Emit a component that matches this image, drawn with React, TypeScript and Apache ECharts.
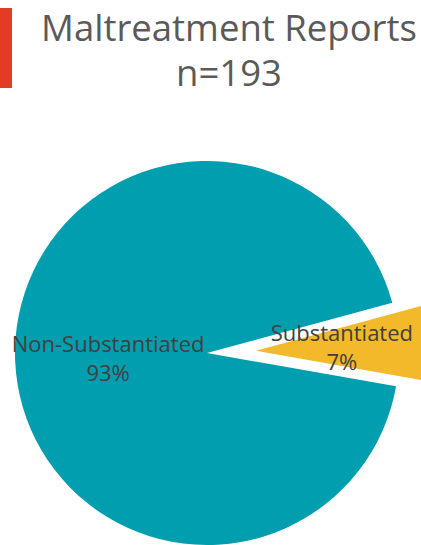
import React, { useEffect, useRef } from "react";
import * as echarts from "echarts";

const titleLines = ["Maltreatment Reports", "n=193"];
const categories = ["Non-Substantiated", "Substantiated"];
const percents = [93, 7];
const colors = ["#019EB0", "#F2B92A"];
const labelPaddings = [
  [0, 0, 4, 0],
  [12, 26, 0, 0],
];

export default function App() {
  const ref = useRef<HTMLDivElement>(null);
  useEffect(() => {
    document.body.style.margin = "0";
    const chart = echarts.init(ref.current!, null, { renderer: "svg" });
    chart.setOption({
      animation: false,
      backgroundColor: "#ffffff",
      graphic: [
        { type: "rect", shape: { x: 0, y: 8, width: 12, height: 80 }, style: { fill: "#E33B24" } },
        {
          type: "text",
          x: 229,
          y: 4,
          style: {
            text: titleLines.join("\n"),
            fill: "#5A5A5A",
            font: '36.5px "Open Sans"',
            align: "center",
            verticalAlign: "top",
            lineHeight: 45,
          },
        },
      ],
      series: [
        {
          type: "pie",
          center: [207, 353],
          radius: 192,
          startAngle: -10,
          clockwise: true,
          selectedMode: "single",
          selectedOffset: 49,
          label: {
            show: true,
            position: "inside",
            formatter: "{b}\n{c}%",
            color: "#404040",
            fontFamily: "Open Sans",
            fontSize: 22,
            lineHeight: 29,
          },
          labelLine: { show: false },
          emphasis: { disabled: true },
          select: { itemStyle: {} },
          data: categories.map((name, i) => ({
            name,
            value: percents[i],
            selected: i === 1,
            itemStyle: { color: colors[i] },
            label: { padding: labelPaddings[i] },
          })),
        },
      ],
    });
    return () => chart.dispose();
  }, []);
  return <div ref={ref} style={{ width: 421, height: 545 }} />;
}
